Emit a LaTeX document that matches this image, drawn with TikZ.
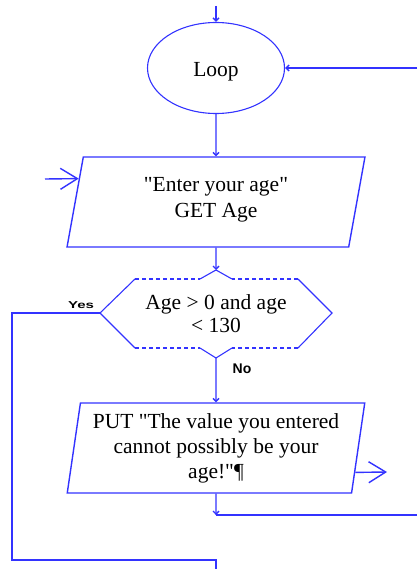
\documentclass[tikz,border=0pt]{standalone}
\usepackage{fontspec}
\usepackage{graphicx}
\newfontfamily\txt{Liberation Serif}
\newfontfamily\lbl{Liberation Sans}
\usetikzlibrary{arrows.meta,shapes.geometric,calc}
\definecolor{fblue}{RGB}{51,51,255}
\begin{document}
\begin{tikzpicture}[x=1pt,y=-1pt,
  ln/.style={draw=fblue,line width=1.4pt},
  thin/.style={draw=fblue,line width=1.1pt},
  tiny/.style={-{Straight Barb[length=3pt,width=6pt]}},
  big/.style={-{Straight Barb[length=17pt,width=21pt]}},
  body/.style={font=\txt\fontsize{21.5}{26}\selectfont,align=center},
  para/.style={ln,body,trapezium,trapezium left angle=80,trapezium right angle=100,
    trapezium stretches=true,minimum width=298pt,minimum height=90pt,inner sep=0pt},
  lab/.style={font=\lbl\bfseries,inner sep=0pt}]
\useasboundingbox (0,0) rectangle (417,569);

% nodes
\node[thin,ellipse,minimum width=137pt,minimum height=91pt,inner sep=0pt,body,
  text height=18pt,text depth=0pt] (loop) at (216,68) {Loop};
\node[para] (in1) at (216,202) {"Enter your age"\\GET Age\\[-16pt]};
\node[body,inner sep=0pt,font=\txt\fontsize{21.5}{23}\selectfont] (dec) at (216,314) {Age > 0 and age\\< 130};
\node[para,font=\txt\fontsize{21.5}{25}\selectfont] (out1) at (216,448) {PUT "The value you entered\\cannot possibly be your\\age!"¶\\[-22pt]};

% decision hexagon
\coordinate (dl) at (100,313);
\coordinate (dtl) at (135,279);
\coordinate (dpl) at (200,279);
\coordinate (dtop) at (216,270);
\coordinate (dpr) at (232,279);
\coordinate (dtr) at (298,279);
\coordinate (dr) at (332,313);
\coordinate (dbr) at (298,348);
\coordinate (dpbr) at (232,348);
\coordinate (dbot) at (216,358);
\coordinate (dpbl) at (200,348);
\coordinate (dbl) at (135,348);
\draw[thin] (dbl) -- (dl) -- (dtl);
\draw[thin] (dtr) -- (dr) -- (dbr);
\draw[thin,dash pattern=on 4pt off 3pt] (dtl) -- (dpl);
\draw[thin,dash pattern=on 4pt off 3pt] (dtr) -- (dpr);
\draw[thin,dash pattern=on 4pt off 3pt] (dbl) -- (dpbl);
\draw[thin,dash pattern=on 4pt off 3pt] (dbr) -- (dpbr);
\draw[thin] (dpl) -- (dtop) -- (dpr);
\draw[thin] (dpbl) -- (dbot) -- (dpbr);

% free ends
\coordinate (topin) at (216,6);
\coordinate (rin) at (417,68);
\coordinate (lin) at (45,179);
\coordinate (in1L) at ($(in1.bottom left corner)!0.756!(in1.top left corner)$);
\coordinate (y1) at (12,313);
\coordinate (y2) at (12,560);
\coordinate (y3) at (216,560);
\coordinate (yend) at (216,569);
\coordinate (out1R) at ($(out1.bottom right corner)!0.233!(out1.top right corner)$);
\coordinate (rout) at (387,472);
\coordinate (jn) at (216,515);
\coordinate (bend) at (417,515);

% connectors
\draw[ln,tiny] (topin) -- (loop.north);
\draw[ln,tiny] (rin) -- (loop.east);
\draw[ln,tiny] (loop.south) -- (in1.north);
\draw[ln,big] (lin) -- (in1L);
\draw[ln,tiny] (in1.south) -- (dtop);
\draw[ln] (dl) -- (y1) -- (y2) -- (y3) -- (yend);
\node[lab,anchor=south,font=\lbl\bfseries\fontsize{10}{12}\selectfont] (yes) at (81,309) {\scalebox{1.5}[1]{Yes}};
\draw[ln,tiny] (dbot) -- (out1.north);
\node[lab,font=\lbl\bfseries\fontsize{14}{16}\selectfont] (no) at (242,369) {No};
\draw[ln,big] (out1R) -- (rout);
\draw[ln,tiny] (out1.south) -- (jn);
\draw[ln] (jn) -- (bend);
\end{tikzpicture}
\end{document}
